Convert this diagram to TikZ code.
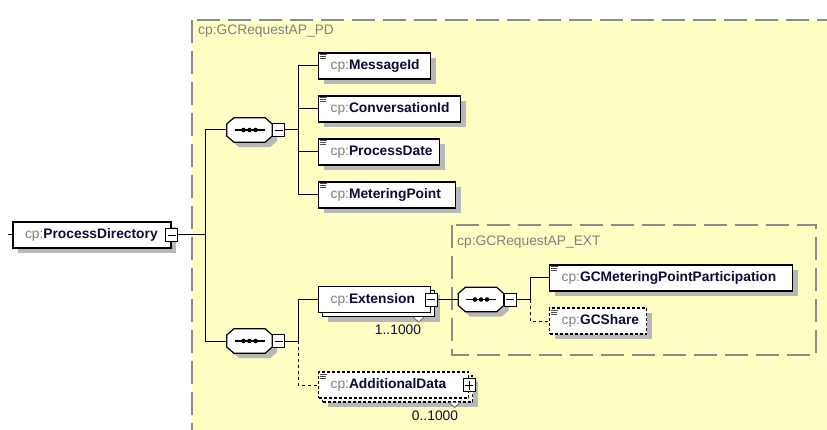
\documentclass[tikz,border=0pt]{standalone}
\usepackage{fontspec}
\setmainfont{Liberation Sans}
\usetikzlibrary{shadows, positioning, calc}

\definecolor{xsdyellow}{RGB}{255,255,196}
\definecolor{cpgray}{RGB}{128,128,128}
\definecolor{namecol}{RGB}{12,12,56}
\definecolor{framegray}{RGB}{140,140,140}
\newcommand{\cpname}[1]{\textcolor{cpgray}{cp:}\textbf{#1}}

\begin{document}
\begin{tikzpicture}[x=1pt, y=-1pt, font=\fontsize{13.8}{16}\selectfont,
    elembase/.style={rectangle, draw, line width=1.2pt, fill=white, minimum height=26pt,
      inner xsep=12pt, inner ysep=0pt, align=left, text=namecol},
    elem/.style={elembase, drop shadow={shadow xshift=5pt, shadow yshift=-5pt, fill=black!28, opacity=1}},
    optelem/.style={elem, dash pattern=on 3pt off 2pt},
    multielem/.style={elembase,
      drop shadow={shadow xshift=9pt, shadow yshift=-9pt, fill=black!28, opacity=1},
      copy shadow={shadow xshift=4pt, shadow yshift=-4pt, draw, fill=white, line width=1.2pt}},
    optmultielem/.style={multielem, dash pattern=on 3pt off 2pt},
    seqbox/.style={rectangle, minimum width=45pt, minimum height=24pt, inner sep=0pt},
    octagon/.style={draw, line width=1.2pt, fill=white,
      drop shadow={shadow xshift=5pt, shadow yshift=-5pt, fill=black!28, opacity=1}},
    togbox/.style={rectangle, draw, line width=0.9pt, fill=white, minimum width=12pt, minimum height=13pt, inner sep=0pt},
    minus/.style={togbox, path picture={
        \draw[line width=0.9pt] ([xshift=2pt]path picture bounding box.west) -- ([xshift=-2pt]path picture bounding box.east);}},
    plus/.style={togbox, path picture={
        \draw[line width=0.9pt] ([xshift=2pt]path picture bounding box.west) -- ([xshift=-2pt]path picture bounding box.east);
        \draw[line width=0.9pt] ([yshift=-2pt]path picture bounding box.north) -- ([yshift=2pt]path picture bounding box.south);}},
    conn/.style={line width=1pt},
    optline/.style={dash pattern=on 3pt off 3pt},
    groupframe/.style={draw=framegray, line width=1.3pt, dash pattern=on 23pt off 8pt},
    grouplabel/.style={anchor=west, inner sep=0pt, text=cpgray},
    card/.style={inner sep=0pt, text=namecol},
    cardmark/.style={draw=black!60, fill=white, line width=0.8pt},
    docicon/.style={draw=black!70, line width=0.8pt}]

  \useasboundingbox (0,0) rectangle (827,430);
  \fill[white] (0,0) rectangle (827,430);

  % complex types
  \fill[xsdyellow] (192,20) rectangle (840,440);
  \draw[groupframe] (192,20) rectangle (840,440);
  \node[grouplabel] (pd-label) at (198,31) {cp:GCRequestAP\_PD};
  \draw[groupframe] (452,225) rectangle (816,355);
  \node[grouplabel] (ext-label) at (457,242) {cp:GCRequestAP\_EXT};

  % root element
  \node[elem, text width=134pt] (root) at (92,235) {\cpname{ProcessDirectory}};
  \node[minus] (root-tog) at (root.east) {};

  % sequence compositors
  \node[seqbox] (seq1) at (249.5,130) {};
  \node[seqbox] (seq2) at (249.5,341) {};
  \node[seqbox] (seq3) at (481,299.5) {};
  \foreach \s in {seq1,seq2,seq3} {
    \filldraw[octagon] ([shift={(0,-6)}]\s.west) -- ([shift={(7,0)}]\s.north west)
      -- ([shift={(-7,0)}]\s.north east) -- ([shift={(0,-6)}]\s.east)
      -- ([shift={(0,6)}]\s.east) -- ([shift={(-7,0)}]\s.south east)
      -- ([shift={(7,0)}]\s.south west) -- ([shift={(0,6)}]\s.west) -- cycle;
    \draw[line width=1.1pt] ([xshift=-15pt]\s.center) -- ([xshift=15pt]\s.center);
    \foreach \dx in {-6,0,6}
      \fill[black] ([xshift=\dx pt]\s.center) circle (2.3pt);
  }
  \node[minus, right=0pt of seq1] (seq1-tog) {};
  \node[minus, right=0pt of seq2] (seq2-tog) {};
  \node[minus, right=0pt of seq3] (seq3-tog) {};

  % first sequence
  \node[elem, anchor=west, text width=88pt] (msgid) at (318,66) {\cpname{MessageId}};
  \node[elem, anchor=west, text width=118pt] (convid) at (318,109) {\cpname{ConversationId}};
  \node[elem, anchor=west, text width=97pt] (pdate) at (318,152) {\cpname{ProcessDate}};
  \node[elem, anchor=west, text width=113pt] (mpoint) at (318,195) {\cpname{MeteringPoint}};

  % second sequence
  \node[multielem, anchor=west, text width=88pt] (ext) at (318,299.5) {\cpname{Extension}};
  \node[minus] (ext-tog) at (ext.east) {};
  \node[optmultielem, anchor=west, text width=126pt] (adddata) at (318,385) {\cpname{AdditionalData}};
  \node[plus] (adddata-tog) at (adddata.east) {};
  \node[card] (ext-card) at (398,330) {1..1000};
  \node[card] (adddata-card) at (435,416) {0..1000};

  % extension sequence
  \node[elem, anchor=west, text width=219pt] (gcmpp) at (549,278) {\cpname{GCMeteringPointParticipation}};
  \node[optelem, anchor=west, text width=73pt] (gcshare) at (549,321) {\cpname{GCShare}};

  % connectors
  \draw[conn] (root.west) -- ++(-4,0);
  \coordinate (trunk) at (205,235);
  \draw[conn] (root-tog.east) -- (trunk);
  \draw[conn] (trunk) |- (seq1.west);
  \draw[conn] (trunk) |- (seq2.west);

  \coordinate (bus1) at (298,130);
  \draw[conn] (seq1-tog.east) -- (bus1);
  \foreach \n in {msgid,convid,pdate,mpoint}
    \draw[conn] (bus1) |- (\n.west);

  \coordinate (bus2) at (298,341);
  \draw[conn] (seq2-tog.east) -- (bus2);
  \draw[conn] (bus2) |- (ext.west);
  \draw[conn, optline] (bus2) |- (adddata.west);

  \draw[conn] (ext-tog.east) -- (seq3.west);
  \coordinate (bus3) at (530,299.5);
  \draw[conn] (seq3-tog.east) -- (bus3);
  \draw[conn] (bus3) |- (gcmpp.west);
  \draw[conn, optline] (bus3) |- (gcshare.west);

  % occurrence marks
  \draw[cardmark] ([xshift=-18pt, yshift=-4pt]ext.south east) -- ++(5.5,5) -- ++(5.5,-5);
  \draw[cardmark] ([xshift=-20pt, yshift=-4pt]adddata.south east) -- ++(5.5,5) -- ++(5.5,-5);

  % simple-content icons
  \foreach \n in {msgid,convid,pdate,mpoint,gcmpp,gcshare,adddata}
    \draw[docicon] ([shift={(2,2.5)}]\n.north west) -- ++(7,0) ++(-7,2) -- ++(6,0) ++(-6,2) -- ++(6,0);
\end{tikzpicture}
\end{document}
